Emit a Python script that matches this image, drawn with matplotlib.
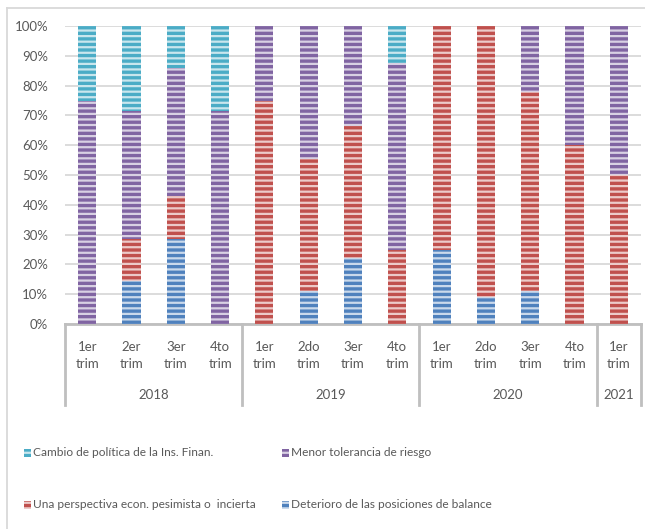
import matplotlib
matplotlib.use("Agg")
import matplotlib.pyplot as plt
from matplotlib.patches import Rectangle
from matplotlib.lines import Line2D
import matplotlib.transforms as mtransforms

# data (percent of responses, bottom to top)
quarters = ["1er\ntrim", "2er\ntrim", "3er\ntrim", "4to\ntrim",
            "1er\ntrim", "2do\ntrim", "3er\ntrim", "4to\ntrim",
            "1er\ntrim", "2do\ntrim", "3er\ntrim", "4to\ntrim",
            "1er\ntrim"]
years = ["2018", "2019", "2020", "2021"]
year_sizes = [4, 4, 4, 1]

deterioro = [0, 14.3, 28.6, 0, 0, 11.1, 22.2, 0, 25, 9.1, 11.1, 0, 0]
perspectiva = [0, 14.3, 14.3, 0, 75, 44.4, 44.4, 25, 75, 90.9, 66.7, 60, 50]
menor = [75, 42.9, 42.9, 71.4, 25, 44.4, 33.3, 62.5, 0, 0, 22.2, 40, 50]
cambio = [25, 28.6, 14.3, 28.6, 0, 0, 0, 12.5, 0, 0, 0, 0, 0]

series = [
    ("Deterioro de las posiciones de balance", deterioro, "#4f81bd"),
    ("Una perspectiva econ. pesimista o  incierta", perspectiva, "#c0504d"),
    ("Menor tolerancia de riesgo", menor, "#8064a2"),
    ("Cambio de política de la Ins. Finan.", cambio, "#4bacc6"),
]

plt.rcParams["font.family"] = ["Lato", "DejaVu Sans"]
plt.rcParams["hatch.linewidth"] = 1.6
TXT = "#595959"
GRID = "#d9d9d9"
AXC = "#bfbfbf"


def main():
    fig = plt.figure(figsize=(6.45, 5.29), dpi=100)
    ax = fig.add_axes([65 / 645, 1 - 324 / 529, 576 / 645, 298 / 529])

    x = list(range(len(quarters)))
    bottom = [0] * len(x)
    for name, vals, col in series:
        ax.bar(x, vals, 0.41, bottom=bottom, color=col,
               edgecolor=(1, 1, 1, 0.7), linewidth=0, hatch="---", zorder=3)
        bottom = [b + v for b, v in zip(bottom, vals)]

    ax.set_xlim(-0.5, len(x) - 0.5)
    ax.set_ylim(0, 100)
    ax.set_yticks(range(0, 101, 10))
    ax.set_yticklabels([f"{v}%" for v in range(0, 101, 10)],
                       fontsize=9.5, color=TXT)
    ax.tick_params(axis="y", length=0, pad=12)
    ax.set_xticks([])
    ax.grid(axis="y", color=GRID, linewidth=1.3, zorder=0)
    for s in ["top", "right", "left"]:
        ax.spines[s].set_visible(False)
    ax.spines["bottom"].set_color(AXC)
    ax.spines["bottom"].set_linewidth(2)

    trans = mtransforms.blended_transform_factory(ax.transData, ax.transAxes)
    for i, lab in enumerate(quarters):
        ax.text(i, -0.105, lab, transform=trans, ha="center", va="center",
                fontsize=9.5, color=TXT, linespacing=1.55)

    start = -0.5
    edges = [start]
    for yr, n in zip(years, year_sizes):
        ax.text(start + n / 2, -0.238, yr, transform=trans, ha="center",
                va="center", fontsize=9.5, color=TXT)
        start += n
        edges.append(start)
    for e in edges:
        ax.add_line(Line2D([e, e], [0, -0.272], transform=trans, color=AXC,
                           linewidth=2, clip_on=False))

    # legend, laid out like the original 2x2 block
    leg = [(series[3], 28, 453), (series[2], 286, 453),
           (series[1], 28, 505), (series[0], 286, 505)]
    for (name, _, col), px, py in leg:
        fig.add_artist(Rectangle((px / 645 - 4 / 645, 1 - py / 529 - 4 / 529),
                                 7 / 645, 8 / 529, transform=fig.transFigure,
                                 facecolor=col, edgecolor=(1, 1, 1, 0.7),
                                 linewidth=0, hatch="---"))
        fig.text(px / 645 + 5 / 645, 1 - py / 529, name, ha="left",
                 va="center", fontsize=8.6, color=TXT)

    # chart frame (left and top edges visible)
    fig.add_artist(Line2D([7 / 645, 7 / 645], [0, 1 - 8 / 529],
                          transform=fig.transFigure, color=GRID, linewidth=1.3))
    fig.add_artist(Line2D([7 / 645, 1], [1 - 8 / 529, 1 - 8 / 529],
                          transform=fig.transFigure, color=GRID, linewidth=1.3))

    fig.savefig("out.png", dpi=100, facecolor="white")


if __name__ == "__main__":
    main()
